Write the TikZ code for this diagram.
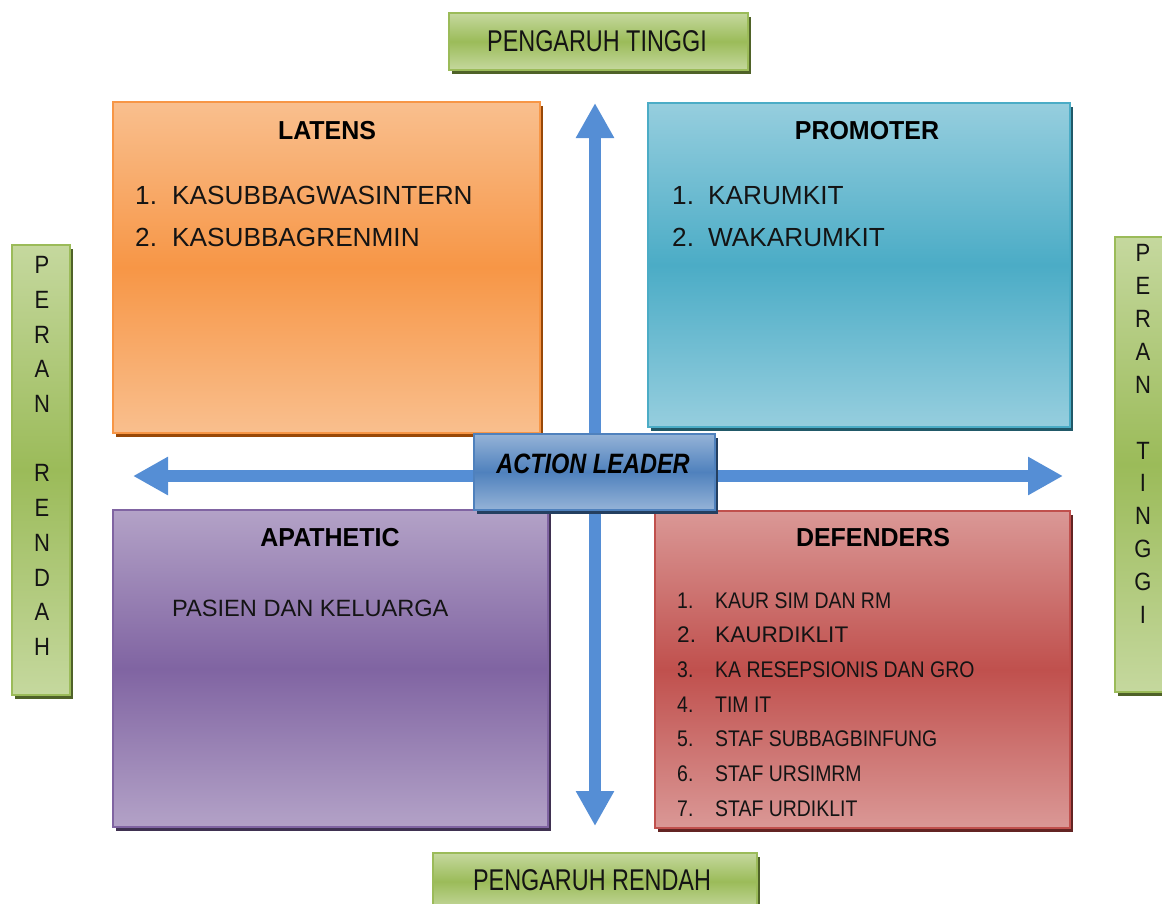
\documentclass[tikz,border=0pt]{standalone}
\usepackage{fontspec}
\setmainfont{Liberation Sans}
\newfontfamily\greenfont[FakeStretch=0.78]{Liberation Sans}
\newfontfamily\vertfont[FakeStretch=0.88]{Liberation Sans}
\newfontfamily\titlefont[FakeStretch=0.96]{Liberation Sans}
\newfontfamily\alfont[FakeStretch=0.84]{Liberation Sans}
\newfontfamily\condfont[FakeStretch=0.86]{Liberation Sans}
\usetikzlibrary{shadows,arrows.meta}

\definecolor{gLight}{HTML}{C5D89E}
\definecolor{gMid}{HTML}{9BBB59}
\definecolor{gBorder}{HTML}{9BBB59}
\definecolor{gShadow}{HTML}{4F6228}
\definecolor{oLight}{HTML}{F9BF8E}
\definecolor{oMid}{HTML}{F79646}
\definecolor{oShadow}{HTML}{984807}
\definecolor{tLight}{HTML}{96CEDE}
\definecolor{tMid}{HTML}{4BACC6}
\definecolor{tShadow}{HTML}{215968}
\definecolor{bLight}{HTML}{95B3D7}
\definecolor{bMid}{HTML}{4F81BD}
\definecolor{bShadow}{HTML}{243F60}
\definecolor{rLight}{HTML}{DA9896}
\definecolor{rMid}{HTML}{C0504D}
\definecolor{rShadow}{HTML}{632423}
\definecolor{pLight}{HTML}{B3A2C7}
\definecolor{pMid}{HTML}{8064A2}
\definecolor{pShadow}{HTML}{3F3151}
\definecolor{axisblue}{HTML}{558ED5}
\definecolor{txt}{HTML}{141414}

\tikzset{
  panel/.style n args={3}{rectangle, inner sep=0pt, outer sep=0pt, line width=1.5pt,
    draw=#2, top color=#1, bottom color=#1, middle color=#2,
    drop shadow={shadow xshift=3pt, shadow yshift=-4pt, opacity=1, fill=#3}},
  greenbox/.style={panel={gLight}{gMid}{gShadow}},
  greentext/.style={font=\greenfont\fontsize{30}{34}\selectfont, text=txt},
  verttext/.style={font=\vertfont\fontsize{25}{#1}\selectfont, align=center, inner sep=0pt, text=txt},
  titletext/.style={font=\titlefont\bfseries\fontsize{26}{30}\selectfont, text height=18.6pt, text depth=0pt, inner sep=0pt, text=black},
  itemtext/.style={font=\fontsize{26.2}{30}\selectfont, text height=18.8pt, text depth=0pt, inner sep=0pt, anchor=west, text=txt},
  ditemtext/.style={font=\fontsize{22.6}{28}\selectfont, text height=16.2pt, text depth=0pt, inner sep=0pt, anchor=west, text=txt},
  axisarrow/.style={line width=12.5pt, draw=axisblue,
    {Triangle[width=36pt,length=35pt]}-{Triangle[width=36pt,length=35pt]}},
}

\begin{document}
\begin{tikzpicture}[x=1pt,y=-1pt]
\useasboundingbox (0,0) rectangle (1162,903);

% axes
\coordinate (vtop) at (595,103);
\coordinate (vbot) at (595,826);
\coordinate (hleft) at (133,476);
\coordinate (hright) at (1063,476);
\draw[axisarrow] (vbot) -- (vtop);
\draw[axisarrow] (hleft) -- (hright);

% green labels
\node[greenbox, minimum width=299pt, minimum height=57pt] (ptinggi) at (598.5,41.5) {};
\node[greentext] (ptinggi-t) at (597,41.5) {PENGARUH TINGGI};
\node[greenbox, minimum width=324pt, minimum height=57pt] (prendah) at (595,881.5) {};
\node[greentext] (prendah-t) at (592,880) {PENGARUH RENDAH};
\node[greenbox, minimum width=58pt, minimum height=450pt] (rrendah) at (41,470) {};
\node[verttext=34.7] (rrendah-t) at (42,456) {P\\E\\R\\A\\N\\\mbox{}\\R\\E\\N\\D\\A\\H};
\node[greenbox, minimum width=58pt, minimum height=455pt] (rtinggi) at (1144,464.5) {};
\node[verttext=32.9] (rtinggi-t) at (1143,434) {P\\E\\R\\A\\N\\\mbox{}\\T\\I\\N\\G\\G\\I};

% quadrants
\node[panel={oLight}{oMid}{oShadow}, minimum width=427pt, minimum height=331pt] (latens) at (326.5,267.5) {};
\node[titletext] (latens-t) at (327,130) {LATENS};
\node[itemtext] (lat1) at (135,195) {\makebox[37pt][l]{1.}KASUBBAGWASINTERN};
\node[itemtext] (lat2) at (135,237) {\makebox[37pt][l]{2.}KASUBBAGRENMIN};

\node[panel={tLight}{tMid}{tShadow}, minimum width=422pt, minimum height=324pt] (promoter) at (859,265) {};
\node[titletext] (promoter-t) at (867,130) {PROMOTER};
\node[itemtext] (pro1) at (672,195) {\makebox[36pt][l]{1.}KARUMKIT};
\node[itemtext] (pro2) at (672,237) {\makebox[36pt][l]{2.}WAKARUMKIT};

\node[panel={pLight}{pMid}{pShadow}, minimum width=435pt, minimum height=317pt] (apathetic) at (330.5,668.5) {};
\node[titletext] (apathetic-t) at (330,537) {APATHETIC};
\node[ditemtext, font=\fontsize{23.6}{28}\selectfont] (apa1) at (172,608) {PASIEN DAN KELUARGA};

\node[panel={rLight}{rMid}{rShadow}, minimum width=415pt, minimum height=317pt] (defenders) at (862.5,669.5) {};
\node[titletext] (defenders-t) at (873,537) {DEFENDERS};
\foreach \t/\f [count=\i] in {KAUR SIM DAN RM/\condfont, KAURDIKLIT/\rmfamily, KA RESEPSIONIS DAN GRO/\condfont, TIM IT/\condfont, STAF SUBBAGBINFUNG/\condfont, STAF URSIMRM/\condfont, STAF URDIKLIT/\condfont}
  \node[ditemtext] (def\i) at (677,{600+34.7*(\i-1)}) {\f\makebox[38pt][l]{\i.}\t};

% centre
\node[panel={bLight}{bMid}{bShadow}, minimum width=241pt, minimum height=76pt] (action) at (594.5,472) {};
\node[font=\alfont\bfseries\itshape\fontsize{28}{32}\selectfont, text height=20pt, text depth=0pt, inner sep=0pt, text=black] (action-t) at (593,463.5) {ACTION LEADER};
\end{tikzpicture}
\end{document}
